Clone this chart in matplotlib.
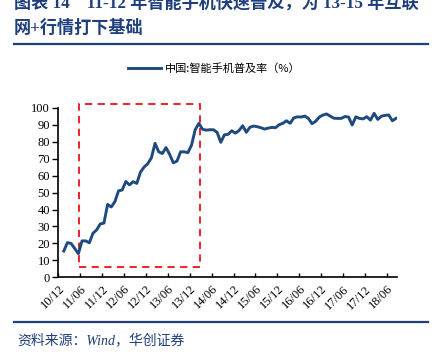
import numpy as np
import matplotlib
matplotlib.use("Agg")
import matplotlib.pyplot as plt
from matplotlib.patches import Rectangle

plt.rcParams['font.family'] = ['Noto Sans CJK SC', 'DejaVu Sans']

# months since 2010-12, tick labels every half year
tick_months = np.arange(0, 91, 6)
tick_labels = ['10/12', '11/06', '11/12', '12/06', '12/12', '13/06', '13/12', '14/06',
               '14/12', '15/06', '15/12', '16/06', '16/12', '17/06', '17/12', '18/06']

# smartphone penetration (%), monthly from 2011-01
penetration = [15.5, 20.5, 20, 17, 14, 21.5, 21.5, 20.4, 26, 28, 31.5, 32,
               43, 41.5, 44.6, 51, 51.5, 56.5, 54.5, 56.4, 55.4, 62, 65, 67,
               70.5, 79, 74, 73, 76.5, 72.5, 67.5, 68.5, 74, 74, 73.5, 78,
               87, 90.8, 87.3, 86.8, 87, 87, 85.5, 79.6, 84, 84.3, 86.4, 85,
               86.5, 89.4, 85.5, 88.5, 89.2, 88.8, 88.2, 87.4, 88, 88.4, 88.2, 90,
               90.8, 92.3, 90.8, 94, 94.6, 94.5, 95.1, 93.7, 90.6, 92, 94.5, 95.7,
               96.3, 95, 93.8, 93.7, 93.7, 94.8, 94.5, 89.8, 94.6, 93.7, 93.4, 94.7,
               92.7, 96.7, 93.1, 95, 95.5, 95.7, 92.3, 93.7]
months = np.arange(len(penetration)) + 1.5

# highlighted period 11-12 (box in data units)
box_x = (5.7, 38.8)
box_y = (6.3, 102.2)

blue = '#1f3e7c'
line_blue = '#1f4a80'
serif_cjk = ['Liberation Serif', 'Noto Sans CJK SC']

fig = plt.figure(figsize=(4.4, 3.52), dpi=100)
ax = fig.add_axes([0.1325, 0.212, 0.77, 0.482])

ax.plot(months, penetration, color=line_blue, lw=2.1, label='中国:智能手机普及率（%）',
        solid_joinstyle='round')

ax.add_patch(Rectangle((box_x[0], box_y[0]), box_x[1] - box_x[0], box_y[1] - box_y[0],
                       fill=False, edgecolor='#e8141a', ls=(0, (4, 3)), lw=1.3, clip_on=False))

ax.set_xlim(0, 92.8)
ax.set_ylim(0, 100)
ax.set_yticks(np.arange(0, 101, 10))
ax.set_xticks(tick_months)
ax.set_xticklabels(tick_labels, rotation=45, ha='right', va='top', rotation_mode='anchor')
ax.tick_params(axis='x', direction='in', length=3, width=1, pad=4)
ax.tick_params(axis='y', direction='out', length=4, width=1, pad=2)
for lab in ax.get_xticklabels() + ax.get_yticklabels():
    lab.set_family('Liberation Serif')
    lab.set_fontsize(9)
for s in ['top', 'right']:
    ax.spines[s].set_visible(False)
for s in ['left', 'bottom']:
    ax.spines[s].set_linewidth(1.2)

fig.legend(loc='center', bbox_to_anchor=(214 / 440, 1 - 69 / 352), frameon=False,
           fontsize=8, handlelength=3.0, handletextpad=0.3)

# title (partly cut at top like the reference)
fig.text(14 / 440, 1 - 3 / 352, '图表 14    11-12 年智能手机快速普及，为 13-15 年互联',
         fontsize=12.3, fontweight='bold', color=blue, va='center', ha='left', family=serif_cjk)
fig.text(14 / 440, 1 - 28 / 352, '网+行情打下基础',
         fontsize=12.3, fontweight='bold', color=blue, va='center', ha='left', family=serif_cjk)
fig.add_artist(plt.Line2D([14 / 440, 428 / 440], [1 - 44 / 352] * 2, color=blue, lw=1.6))
fig.add_artist(plt.Line2D([14 / 440, 428 / 440], [1 - 322 / 352] * 2, color=blue, lw=1.6))
fig.text(17 / 440, 1 - 340 / 352, '资料来源：Wind，华创证券', fontsize=10, color=blue,
         style='italic', va='center', ha='left', family=serif_cjk)

fig.savefig('out.png', dpi=100)
